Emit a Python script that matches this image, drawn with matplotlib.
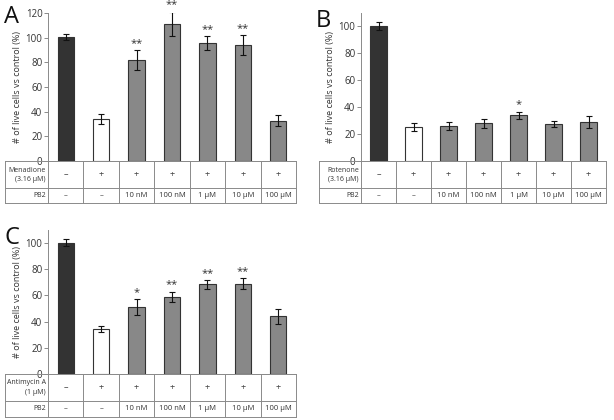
import matplotlib
matplotlib.use('Agg')
import matplotlib.pyplot as plt

plt.rcParams['font.family'] = ['Open Sans', 'DejaVu Sans']

W, H = 614, 420

treat_row = ['–', '+', '+', '+', '+', '+', '+']
pb2_row = ['–', '–', '10 nM', '100 nM', '1 µM', '10 µM', '100 µM']

# panel A - menadione
a_vals = [100.5, 34, 82, 111, 95.5, 94, 32.5]
a_errs = [2.5, 4, 8, 10, 5.5, 8, 4.5]
a_stars = ['', '', '**', '**', '**', '**', '']

# panel B - rotenone
b_vals = [100, 25.5, 26, 28, 34, 27.5, 29]
b_errs = [3, 3, 3.2, 3.5, 2.7, 2.3, 4.8]
b_stars = ['', '', '', '', '*', '', '']

# panel C - antimycin A
c_vals = [100.3, 34.5, 51, 59, 68.4, 69, 44]
c_errs = [2.5, 2.5, 6, 4, 3.3, 4, 6]
c_stars = ['', '', '*', '**', '**', '**', '']

bar_colors = ['#333333', 'white', '#888888', '#888888', '#888888', '#888888', '#888888']
line_col = '#8a8a8a'

fig = plt.figure(figsize=(W / 100, H / 100), dpi=100)


def box(l, r, t, b):
    # pixel box -> figure fraction rect
    return [l / W, 1 - b / H, (r - l) / W, (b - t) / H]


def panel(letter, lx, ly, ax_l, tab_l, ax_r, ax_t, y0, tab_b, tab_mid,
          ymax, yticks, vals, errs, stars, treat_label):
    ax = fig.add_axes(box(ax_l, ax_r, ax_t, y0))
    x = range(len(vals))
    ax.bar(x, vals, width=0.46, color=bar_colors, edgecolor='#333333', linewidth=0.8, zorder=2)
    ax.errorbar(x, vals, yerr=errs, fmt='none', ecolor='#111111', elinewidth=0.8,
                capsize=2.5, capthick=0.8, zorder=3)
    for i, s in enumerate(stars):
        if s:
            ax.text(i, vals[i] + errs[i] + 1, s, ha='center', va='bottom', fontsize=8, color='#333333')
    ax.set_xlim(-0.5, len(vals) - 0.5)
    ax.set_ylim(0, ymax)
    ax.set_yticks(yticks)
    ax.set_xticks([])
    for sp in ['top', 'right']:
        ax.spines[sp].set_visible(False)
    for sp in ['left', 'bottom']:
        ax.spines[sp].set_color(line_col)
        ax.spines[sp].set_linewidth(0.7)
    ax.tick_params(axis='y', labelsize=7, colors=line_col, labelcolor='#333333', length=3, width=0.7, pad=1)
    ax.set_ylabel('# of live cells vs control (%)', fontsize=6.5, color='#333333')
    ax.yaxis.set_label_coords(-26 / (ax_r - ax_l), 0.5)
    ax.patch.set_alpha(0)

    # table under the bars, same slot spacing
    slot = (ax_r - ax_l) / len(vals)
    xl = -0.5 - (ax_l - tab_l) / slot
    tab = fig.add_axes(box(tab_l, ax_r, y0, tab_b))
    tab.set_xlim(xl, len(vals) - 0.5)
    tab.set_ylim(0, 1)
    tab.axis('off')
    mid = (tab_b - tab_mid) / (tab_b - y0)
    kw = dict(color=line_col, lw=0.7, clip_on=False)
    tab.plot([xl, len(vals) - 0.5], [1, 1], **kw)
    tab.plot([xl, len(vals) - 0.5], [mid, mid], **kw)
    tab.plot([xl, len(vals) - 0.5], [0, 0], **kw)
    tab.plot([xl, xl], [0, 1], **kw)
    for k in range(len(vals) + 1):
        tab.plot([k - 0.5, k - 0.5], [0, 1], **kw)
    for i in range(len(vals)):
        tab.text(i, (1 + mid) / 2, treat_row[i], ha='center', va='center', fontsize=6.5, color='#444444')
        tab.text(i, mid / 2, pb2_row[i], ha='center', va='center', fontsize=5.5, color='#333333')
    tab.text(-0.5 - 0.06, (1 + mid) / 2, treat_label, ha='right', va='center', fontsize=5,
             color='#333333', linespacing=1.4)
    tab.text(-0.5 - 0.06, mid / 2, 'PB2', ha='right', va='center', fontsize=5, color='#333333')

    fig.text(lx / W, 1 - ly / H, letter, fontsize=17, ha='left', va='top', color='#111111')


panel('A', 4, 5, 48, 5, 296, 13, 161, 203, 188, 120, [0, 20, 40, 60, 80, 100, 120],
      a_vals, a_errs, a_stars, 'Menadione\n(3.16 µM)')
panel('B', 316, 9, 361, 319, 606, 13, 161, 203, 188, 110, [0, 20, 40, 60, 80, 100],
      b_vals, b_errs, b_stars, 'Rotenone\n(3.16 µM)')
panel('C', 4, 226, 48, 5, 296, 230, 374, 417, 401, 110, [0, 20, 40, 60, 80, 100],
      c_vals, c_errs, c_stars, 'Antimycin A\n(1 µM)')

fig.savefig('out.png', dpi=100)
